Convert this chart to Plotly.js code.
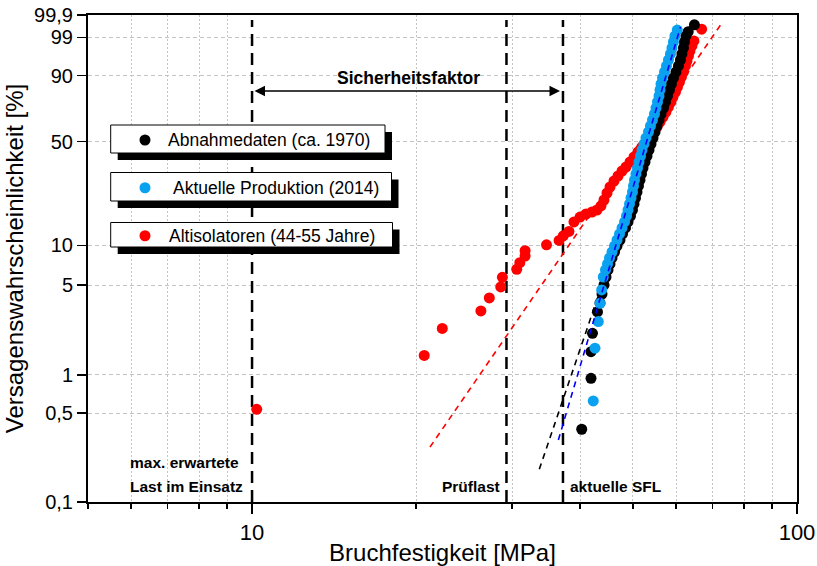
<!DOCTYPE html>
<html><head><meta charset="utf-8">
<script src="https://cdn.plot.ly/plotly-3.0.1.min.js"></script>
<style>html,body{margin:0;padding:0;background:#fff}#chart{width:817px;height:566px}</style>
</head><body><div id="chart"></div>
<script>
// ---- data (strength in MPa, failure probability in %) ----
const blackX = [40.27,41.88,41.88,42.14,43.04,43.50,43.87,44.24,44.62,
  45.00,45.38,45.77,46.25,46.74,47.34,47.84,48.45,48.97,49.48,49.90,50.22,50.54,50.86,51.18,51.51,
  51.84,52.17,52.61,53.06,53.51,53.96,54.42,54.88,55.35,55.82,56.29,56.89,57.36,57.85,58.34,58.83,
  59.33,59.96,60.60,61.11,61.50,61.89,62.15,62.54,63.15,64.83];
const blackF = [0.374,0.941,1.519,2.115,3.10,3.64,4.27,5.01,5.77,
  6.53,7.25,8.05,8.93,9.90,10.98,12.17,13.47,14.90,16.46,18.17,20.04,22.07,24.27,26.66,29.22,
  31.99,34.93,38.07,41.40,44.89,48.54,52.33,56.23,60.20,64.20,68.19,72.11,75.93,79.57,82.98,86.12,
  88.93,91.41,93.53,95.27,96.68,97.75,98.55,99.11,99.39,99.69];

const blueX = [42.28,42.59,43.19,43.50,43.81,44.11,
  44.52,44.90,45.28,45.77,46.25,46.74,47.24,47.74,48.25,48.66,48.97,49.28,49.59,49.90,50.12,50.33,
  50.64,50.97,51.29,51.62,51.95,52.39,52.83,53.39,53.84,54.30,54.76,55.11,55.46,55.82,56.05,56.29,
  56.65,57.13,57.60,58.09,58.58,58.96,59.33,59.71,60.29];
const blueF = [0.625,1.62,2.61,3.62,4.59,5.77,
  6.53,7.25,8.05,8.93,9.90,10.98,12.17,13.47,14.90,16.46,18.17,20.04,22.07,24.27,26.66,29.22,
  31.99,34.93,38.07,41.40,44.89,48.54,52.33,56.23,60.20,64.20,68.19,72.11,75.93,79.57,82.98,86.12,
  88.93,91.41,93.53,95.27,96.68,97.75,98.55,99.11,99.48];

const redX = [10.20,20.7,22.34,26.3,27.25,28.6,28.8,30.6,31.0,31.7,31.7,34.7,36.6,37.25,38.15,
  38.97,39.98,41.00,42.05,42.95,43.68,44.24,44.81,45.38,46.15,46.94,47.74,48.55,49.38,50.22,51.07,
  51.95,52.83,53.73,54.65,55.35,56.05,56.77,57.48,58.09,58.71,59.21,59.84,60.34,60.86,61.37,61.89,
  62.41,62.81,63.21,63.61,64.15,64.69,66.83];
const redF = [0.537,1.42,2.31,3.16,3.98,4.84,5.74,6.61,7.42,8.33,9.14,10.1,10.9,11.8,12.7,
  14.90,16.18,17.01,17.58,18.17,19.40,21.37,23.89,26.24,28.78,31.04,33.44,35.45,38.07,40.83,43.71,
  46.70,49.79,52.97,56.23,59.53,62.86,66.20,69.51,72.76,75.93,78.97,81.87,84.58,87.09,89.38,91.41,
  93.53,95.01,96.25,97.25,98.05,98.66,99.52];

// Weibull fit lines (two end points each)
const redFitX = [21.21,72.85],  redFitF = [0.271,99.75];
const blackFitX = [33.66,64.08], blackFitF = [0.181,99.80];
const blueFitX = [36.48,61.11],  blueFitF = [0.308,99.61];

// reference loads (MPa)
const refX = [10, 29.3, 37.2];

const yTickVals = [0.1,0.5,1,5,10,50,90,99,99.9];
const yTickText = ['0,1','0,5','1','5','10','50','90','99','99,9'];
const xTickVals = [10,100];
const xTickText = ['10','100'];
const xMinorVals = [5,6,7,8,9,20,30,40,50,60,70,80,90];

const seriesNames = ['Abnahmedaten (ca. 1970)','Aktuelle Produktion (2014)','Altisolatoren (44-55 Jahre)'];
const colBlack = '#000000', colBlue = '#0aa2f0', colRed = '#ff0000';

// ---- geometry helpers ----
const L=88, R=797, T=15, B=502;
const PW=R-L, PH=B-T;
const px = v => (v-L)/PW;
const py = v => (B-v)/PH;
const wb = F => Math.log(-Math.log(1-F/100));
const yMin = wb(0.1), yMax = wb(99.9);
const yAtPx = p => yMin + (B-p)/PH*(yMax-yMin);

const traces = [];
// vertical dashed reference lines
refX.forEach(v => traces.push({x:[v,v], y:[yMin, yAtPx(20)], mode:'lines',
  line:{color:'#000', width:2.5, dash:'12px,7px'}, hoverinfo:'skip', cliponaxis:false}));
traces.push({x:redFitX, y:redFitF.map(wb), mode:'lines', line:{color:colRed, width:1.6, dash:'6px,5px'}});
traces.push({x:blackFitX, y:blackFitF.map(wb), mode:'lines', line:{color:colBlack, width:1.6, dash:'6px,5px'}});
traces.push({x:redX, y:redF.map(wb), mode:'markers', marker:{color:colRed, size:11, line:{width:0}}, name:seriesNames[2]});
traces.push({x:blackX, y:blackF.map(wb), mode:'markers', marker:{color:colBlack, size:11, line:{width:0}}, name:seriesNames[0]});
traces.push({x:blueX, y:blueF.map(wb), mode:'markers', marker:{color:colBlue, size:11, line:{width:0}}, name:seriesNames[1]});
traces.push({x:blueFitX, y:blueFitF.map(wb), mode:'lines', line:{color:'#0000ff', width:1.6, dash:'6px,5px'}});

const FONT = 'Liberation Sans, Arial, Helvetica, sans-serif';

// custom legend boxes
const boxes = [
  {top:125, bot:153, right:385, tx:168, color:colBlack, label:seriesNames[0]},
  {top:172.5, bot:201, right:391.5, tx:173, color:colBlue, label:seriesNames[1]},
  {top:222.5, bot:247, right:392.5, tx:169, color:colRed, label:seriesNames[2]}
];
const shapes = [];
const annotations = [];
boxes.forEach(b => {
  shapes.push({type:'rect', xref:'paper', yref:'paper', x0:px(110.7+7), x1:px(b.right+7), y0:py(b.bot+7), y1:py(b.top+7),
    fillcolor:'#000', line:{width:0}});
  shapes.push({type:'rect', xref:'paper', yref:'paper', x0:px(110.7), x1:px(b.right), y0:py(b.bot), y1:py(b.top),
    fillcolor:'#fff', line:{color:'#000', width:1}});
  const cy = (b.top+b.bot)/2 + 1;
  shapes.push({type:'circle', xref:'paper', yref:'paper', xsizemode:'pixel', ysizemode:'pixel',
    xanchor:px(145), yanchor:py(cy), x0:-5.5, x1:5.5, y0:-5.5, y1:5.5, fillcolor:b.color, line:{width:0}});
  annotations.push({xref:'paper', yref:'paper', x:px(b.tx-2), y:py(cy), xanchor:'left', yanchor:'middle',
    text:b.label, showarrow:false, font:{family:FONT, size:17.5, color:'#000'}});
});

const boldText = (t, xp, yp, anchor, size) => annotations.push({xref:'paper', yref:'paper', x:px(xp), y:py(yp),
  xanchor:anchor, yanchor:'middle', text:'<b>'+t+'</b>', showarrow:false, font:{family:FONT, size:size, color:'#000'}});
boldText('Sicherheitsfaktor', 408, 78, 'center', 17.5);
boldText('max. erwartete', 128, 462, 'left', 15.5);
boldText('Last im Einsatz', 128, 486, 'left', 15.5);
boldText('Prüflast', 440, 486, 'left', 15.5);
boldText('aktuelle SFL', 568, 486, 'left', 15.5);

annotations.push({xref:'paper', yref:'paper', x:px(560), y:py(91), axref:'pixel', ayref:'pixel', ax:-(560-253), ay:0,
  text:'', showarrow:true, arrowhead:2, arrowside:'end+start', arrowsize:1.4, arrowwidth:1.5, arrowcolor:'#000', standoff:0, startstandoff:0});

const layout = {
  width:817, height:566, margin:{l:L, r:817-R, t:T, b:566-B, pad:0},
  paper_bgcolor:'#fff', plot_bgcolor:'#fff', showlegend:false,
  font:{family:FONT, color:'#000'},
  xaxis:{type:'log', range:[Math.log10(5), 2], tickmode:'array', tickvals:xTickVals, ticktext:xTickText,
    ticks:'outside', ticklen:10, tickwidth:1.5, tickcolor:'#000', showline:true, linewidth:2, linecolor:'#000',
    mirror:true, showgrid:false, zeroline:false, tickfont:{size:22, family:FONT},
    title:{text:'Bruchfestigkeit [MPa]', font:{size:24, family:FONT}, standoff:2},
    minor:{tickmode:'array', tickvals:xMinorVals, ticks:'outside', ticklen:5, tickwidth:1.5, tickcolor:'#000',
      showgrid:true, gridcolor:'#c4c4c4', griddash:'2px,2px', gridwidth:1}},
  yaxis:{range:[yMin, yMax], tickmode:'array', tickvals:yTickVals.map(wb), ticktext:yTickText,
    ticks:'outside', ticklen:9, tickwidth:1.5, tickcolor:'#000', showline:true, linewidth:2, linecolor:'#000',
    mirror:true, showgrid:true, gridcolor:'#c4c4c4', griddash:'4px,3px', gridwidth:1, zeroline:false,
    tickfont:{size:20, family:FONT},
    title:{text:'Versagenswahrscheinlichkeit [%]', font:{size:24, family:FONT}, standoff:4}},
  shapes:shapes, annotations:annotations
};

Plotly.newPlot('chart', traces, layout, {displayModeBar:false, staticPlot:true});
</script></body></html>
